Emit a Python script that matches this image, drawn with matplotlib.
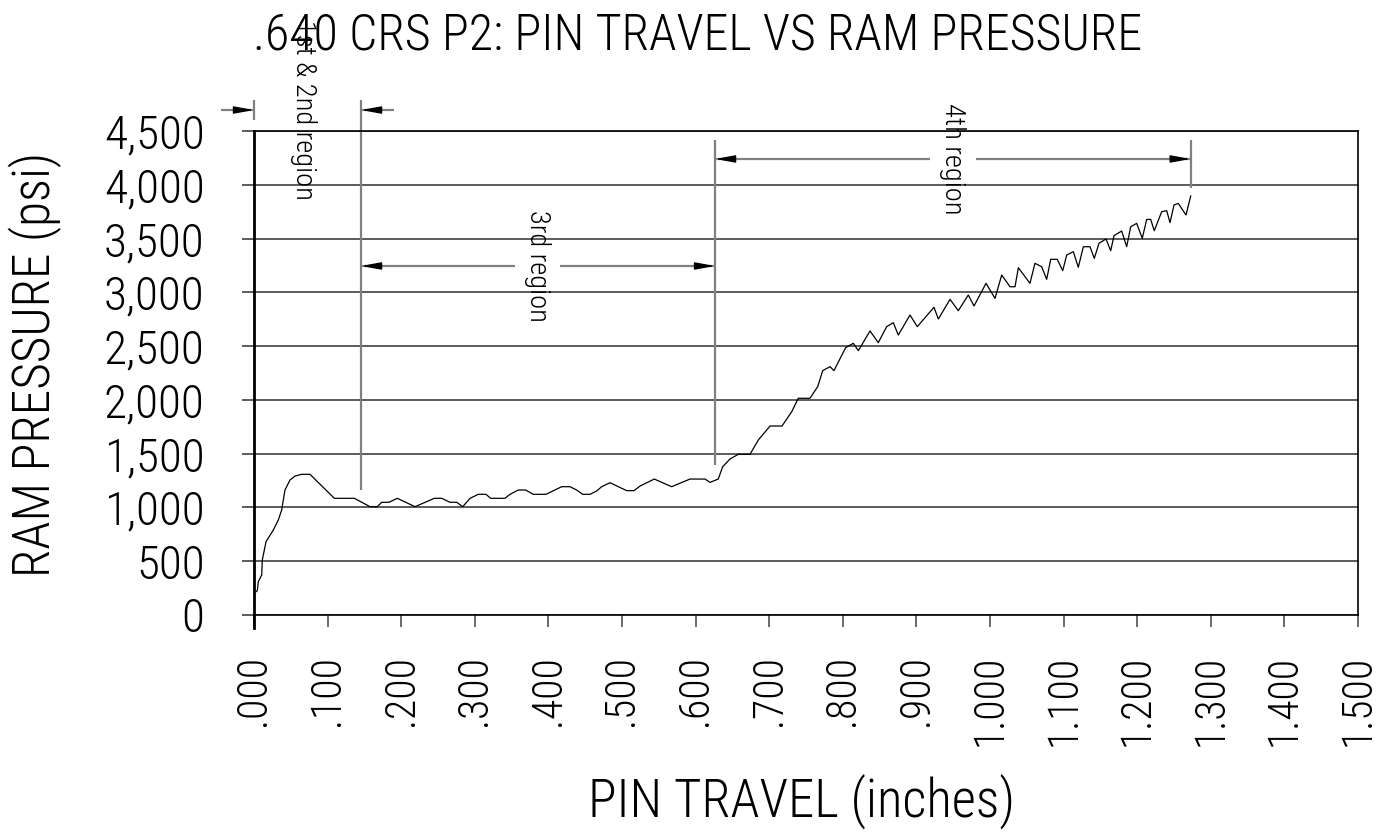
import numpy as np
import matplotlib
matplotlib.use("Agg")
import matplotlib.pyplot as plt
from matplotlib import font_manager

# Pin travel (inches) vs ram pressure (psi)
travel = [
    0.0000, 0.0045, 0.0058, 0.0105, 0.0113, 0.0163, 0.0262, 0.0330, 0.0376,
    0.0421, 0.0489, 0.0557, 0.0648, 0.0761, 0.1091, 0.1363, 0.1576, 0.1675,
    0.1735, 0.1834, 0.1947, 0.2188, 0.2450, 0.2550, 0.2663, 0.2754, 0.2836,
    0.2935, 0.3048, 0.3152, 0.3216, 0.3410, 0.3478, 0.3591, 0.3692, 0.3795,
    0.3967, 0.4181, 0.4293, 0.4384, 0.4466, 0.4565, 0.4656, 0.4724, 0.4837,
    0.5064, 0.5163, 0.5245, 0.5439, 0.5675, 0.5924, 0.6128, 0.6196, 0.6308,
    0.6368, 0.6467, 0.6580, 0.6739, 0.6852, 0.7011, 0.7174, 0.7306, 0.7395,
    0.7554, 0.7659, 0.7727, 0.7826, 0.7880, 0.8039, 0.8143, 0.8211, 0.8370,
    0.8482, 0.8596, 0.8686, 0.8754, 0.8913, 0.9012, 0.9239, 0.9298, 0.9457,
    0.9569, 0.9705, 0.9783, 0.9946, 1.0068, 1.0159, 1.0272, 1.0340, 1.0385,
    1.0543, 1.0611, 1.0702, 1.0770, 1.0825, 1.0914, 1.0988, 1.1042, 1.1132,
    1.1200, 1.1268, 1.1359, 1.1417, 1.1481, 1.1576, 1.1640, 1.1685, 1.1789,
    1.1857, 1.1912, 1.1993, 1.2069, 1.2129, 1.2183, 1.2232, 1.2333, 1.2401,
    1.2446, 1.2500, 1.2558, 1.2663, 1.2727,
]
pressure = [
    202, 226, 310, 372, 511, 681, 790, 883, 976,
    1162, 1255, 1292, 1308, 1308, 1085, 1085, 1007, 1007,
    1048, 1048, 1085, 1007, 1085, 1085, 1048, 1048, 1007,
    1085, 1122, 1122, 1085, 1085, 1122, 1162, 1162, 1122,
    1122, 1193, 1193, 1162, 1122, 1122, 1153, 1193, 1230,
    1156, 1156, 1199, 1264, 1193, 1264, 1264, 1233, 1264,
    1379, 1450, 1494, 1494, 1627, 1757, 1757, 1890, 2015,
    2015, 2123, 2272, 2309, 2272, 2486, 2526, 2458, 2641,
    2532, 2681, 2718, 2603, 2789, 2681, 2861, 2752, 2935,
    2829, 2975, 2873, 3084, 2944, 3161, 3052, 3052, 3229,
    3084, 3270, 3238, 3121, 3307, 3307, 3201, 3347, 3378,
    3233, 3424, 3424, 3316, 3456, 3496, 3387, 3527, 3570,
    3424, 3610, 3641, 3502, 3678, 3678, 3573, 3750, 3759,
    3648, 3812, 3827, 3719, 3896,
]

x_ticks = [i / 10 for i in range(16)]
y_ticks = list(range(0, 4501, 500))

# region boundaries along the pin travel (inches)
region_bounds = [0.0, 0.1454, 0.6264, 1.2727]
region_names = ["1st & 2nd region", "3rd region", "4th region"]


def pick_font():
    names = {f.name for f in font_manager.fontManager.ttflist}
    for fam in ("Roboto Condensed", "Liberation Sans Narrow",
                "DejaVu Sans Condensed", "Open Sans Condensed", "Roboto"):
        if fam in names:
            return fam
    return "DejaVu Sans"


FONT = pick_font()
plt.rcParams["font.family"] = [FONT, "DejaVu Sans"]
plt.rcParams["font.weight"] = "light"

W, H = 1382, 834
fig = plt.figure(figsize=(W / 100, H / 100), dpi=100)
ax = fig.add_axes([254 / W, 1 - 615 / H, 1104 / W, 484 / H])

ax.plot(travel, pressure, color="black", lw=0.9)

ax.set_xlim(0, 1.5)
ax.set_ylim(0, 4500)

ax.set_yticks(y_ticks, [f"{v:,}" for v in y_ticks])
ax.set_xticks(x_ticks, [f"{v:.3f}".lstrip("0") if v < 1 else f"{v:.3f}" for v in x_ticks],
              rotation=90)
ax.tick_params(axis="y", direction="out", length=8.6, width=1.2, color="#404040",
               pad=27, labelsize=34)
ax.tick_params(axis="x", direction="out", length=8.6, width=1.2, color="#505050",
               pad=20, labelsize=30)
ax.grid(axis="y", color="#404040", lw=1.2)
ax.grid(axis="x", visible=False)

for side in ("top", "right", "bottom"):
    ax.spines[side].set_linewidth(1.2)
    ax.spines[side].set_color("black")
ax.spines["left"].set_linewidth(2.0)
ax.spines["left"].set_bounds(-120, 4500)

# dimension lines marking the regions
dim_kw = dict(color="#808080", lw=1.6, clip_on=False, solid_capstyle="butt")


def head(x, y, sign):
    ax.annotate("", xy=(x, y), xytext=(-sign * 12, 0), textcoords="offset points",
                annotation_clip=False,
                arrowprops=dict(arrowstyle="-|>,head_length=1.2,head_width=0.22",
                                mutation_scale=10, color="black", lw=1,
                                shrinkA=0, shrinkB=0))


b0, b1, b2, b3 = region_bounds

# extension lines
ax.plot([b0, b0], [4602, 4788], **dim_kw)
ax.plot([b1, b1], [1162, 4788], **dim_kw)
ax.plot([b2, b2], [1395, 4416], **dim_kw)
ax.plot([b3, b3], [3970, 4416], **dim_kw)

# 1st & 2nd region: arrows pointing in from outside
y12 = 4695
ax.plot([b0 - 0.045, b0], [y12, y12], **dim_kw)
head(b0, y12, +1)
ax.plot([b1, b1 + 0.045], [y12, y12], **dim_kw)
head(b1, y12, -1)
ax.text(0.0666, y12, region_names[0], rotation=270, ha="center", va="center",
        fontsize=20.5, clip_on=False)

# 3rd region
y3 = 3245
ax.plot([b1, 0.3546], [y3, y3], **dim_kw)
ax.plot([0.4158, b2], [y3, y3], **dim_kw)
head(b1, y3, -1)
head(b2, y3, +1)
ax.text(0.3852, y3, region_names[1], rotation=270, ha="center", va="center",
        fontsize=20.5)

# 4th region
y4 = 4240
ax.plot([b2, 0.9185], [y4, y4], **dim_kw)
ax.plot([0.9810, b3], [y4, y4], **dim_kw)
head(b2, y4, -1)
head(b3, y4, +1)
ax.text(0.9497, y4, region_names[2], rotation=270, ha="center", va="center",
        fontsize=20.5)

fig.text(698 / W, 1 - 50 / H, ".640 CRS P2: PIN TRAVEL VS RAM PRESSURE",
         ha="center", va="baseline", fontsize=36)
fig.text(802 / W, 1 - 818 / H, "PIN TRAVEL (inches)", ha="center", va="baseline",
         fontsize=38)
fig.text(50 / W, 1 - 364 / H, "RAM PRESSURE (psi)", rotation=90,
         rotation_mode="anchor", ha="center", va="baseline", fontsize=37)

fig.savefig("out.png", dpi=100, facecolor="white")
